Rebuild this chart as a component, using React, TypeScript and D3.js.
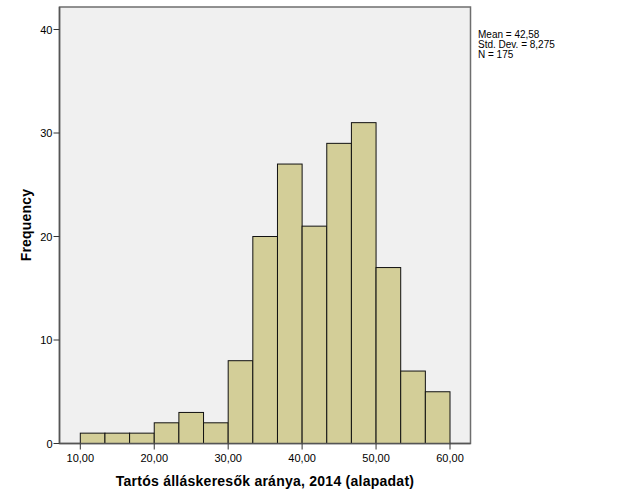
import React from "react";
import * as d3 from "d3";

const binStart = 10;
const binWidth = 10 / 3;
const counts = [1, 1, 1, 2, 3, 2, 8, 20, 27, 21, 29, 31, 17, 7, 5];
const xTicks = [10, 20, 30, 40, 50, 60];
const yTicks = [0, 10, 20, 30, 40];
const statsLines = ["Mean = 42,58", "Std. Dev. = 8,275", "N = 175"];
const xTitle = "Tartós álláskeresők aránya, 2014 (alapadat)";
const yTitle = "Frequency";

export default function App() {
  const W = 629, H = 504;
  const left = 59.5, right = 470.5, top = 7, bottom = 443.5;
  const x = d3.scaleLinear().domain([10, 60]).range([80.3, 450]);
  const y = d3.scaleLinear().domain([0, 40]).range([443.5, 29.5]);
  const fmt = (v: number) => v.toFixed(2).replace(".", ",");
  const font = "Arial, 'Liberation Sans', sans-serif";
  return (
    <svg width={W} height={H} style={{ position: "absolute", left: 0, top: 0 }} fontFamily={font}>
      <rect x={0} y={0} width={W} height={H} fill="#fff" />
      <rect x={left} y={top} width={right - left} height={bottom - top} fill="#f0f0f0" stroke="#6e6e6e" strokeWidth={1.5} />
      {counts.map((c, i) => {
        const x0 = x(binStart + i * binWidth);
        const x1 = x(binStart + (i + 1) * binWidth);
        return (
          <rect key={i} x={x0} y={y(c)} width={x1 - x0} height={y(0) - y(c)} fill="#d3ce98" stroke="#111" strokeWidth={1} />
        );
      })}
      <line x1={left} x2={right} y1={bottom} y2={bottom} stroke="#555" strokeWidth={1.5} />
      <line x1={left} x2={left} y1={top} y2={bottom} stroke="#555" strokeWidth={1.5} />
      {yTicks.map((t) => (
        <g key={t}>
          <line x1={left - 6} x2={left} y1={y(t)} y2={y(t)} stroke="#333" strokeWidth={1} />
          <text x={left - 7} y={y(t) + 4} fontSize={11} textAnchor="end" fill="#000">{t}</text>
        </g>
      ))}
      {xTicks.map((t) => (
        <g key={t}>
          <line x1={x(t)} x2={x(t)} y1={bottom} y2={bottom + 6} stroke="#333" strokeWidth={1} />
          <text x={x(t)} y={bottom + 18} fontSize={11} textAnchor="middle" fill="#000">{fmt(t)}</text>
        </g>
      ))}
      <text x={265} y={486} fontSize={14} fontWeight="bold" textAnchor="middle" letterSpacing={0.25} fill="#000">{xTitle}</text>
      <text transform={`translate(31,225) rotate(-90)`} fontSize={14} fontWeight="bold" textAnchor="middle" letterSpacing={0.2} fill="#000">{yTitle}</text>
      {statsLines.map((s, i) => (
        <text key={i} x={478} y={38 + i * 10} fontSize={10} fill="#000">{s}</text>
      ))}
    </svg>
  );
}
